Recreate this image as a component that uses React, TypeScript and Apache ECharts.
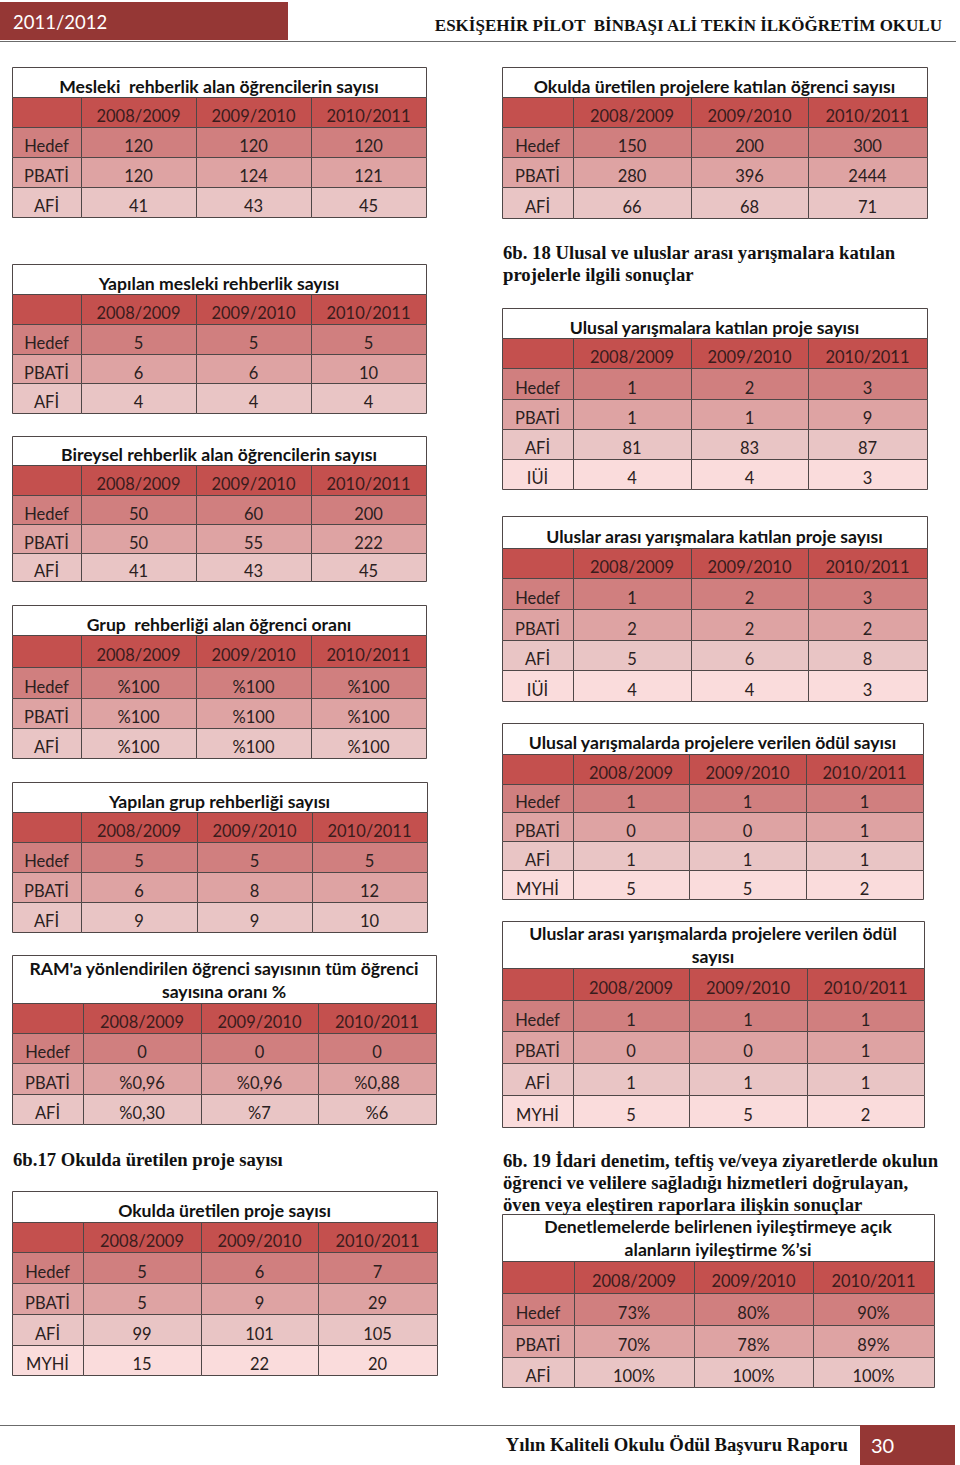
import React, { useEffect, useRef } from "react";
import * as echarts from "echarts";

// ---------------- DATA ----------------
const YEARS = ["2008/2009", "2009/2010", "2010/2011"];

const pageYear = "2011/2012";
const schoolName = "ESKİŞEHİR PİLOT  BİNBAŞI ALİ TEKİN İLKÖĞRETİM OKULU";
const footerText = "Yılın Kaliteli Okulu Ödül Başvuru Raporu";
const pageNumber = "30";

const heading17 = "6b.17 Okulda üretilen proje sayısı";
const heading18 = "6b. 18 Ulusal ve uluslar arası yarışmalara katılan\nprojelerle ilgili sonuçlar";
const heading19 =
  "6b. 19 İdari denetim, teftiş ve/veya ziyaretlerde okulun\nöğrenci ve velilere sağladığı hizmetleri doğrulayan,\növen veya eleştiren raporlara ilişkin sonuçlar";

const meslekiTitle = "Mesleki  rehberlik alan öğrencilerin sayısı";
const meslekiRows = ["Hedef", "PBATİ", "AFİ"];
const meslekiValues = [["120", "120", "120"], ["120", "124", "121"], ["41", "43", "45"]];

const projeOgrenciTitle = "Okulda üretilen projelere katılan öğrenci sayısı";
const projeOgrenciRows = ["Hedef", "PBATİ", "AFİ"];
const projeOgrenciValues = [["150", "200", "300"], ["280", "396", "2444"], ["66", "68", "71"]];

const yapilanMeslekiTitle = "Yapılan mesleki rehberlik sayısı";
const yapilanMeslekiRows = ["Hedef", "PBATİ", "AFİ"];
const yapilanMeslekiValues = [["5", "5", "5"], ["6", "6", "10"], ["4", "4", "4"]];

const bireyselTitle = "Bireysel rehberlik alan öğrencilerin sayısı";
const bireyselRows = ["Hedef", "PBATİ", "AFİ"];
const bireyselValues = [["50", "60", "200"], ["50", "55", "222"], ["41", "43", "45"]];

const grupTitle = "Grup  rehberliği alan öğrenci oranı";
const grupRows = ["Hedef", "PBATİ", "AFİ"];
const grupValues = [["%100", "%100", "%100"], ["%100", "%100", "%100"], ["%100", "%100", "%100"]];

const yapilanGrupTitle = "Yapılan grup rehberliği sayısı";
const yapilanGrupRows = ["Hedef", "PBATİ", "AFİ"];
const yapilanGrupValues = [["5", "5", "5"], ["6", "8", "12"], ["9", "9", "10"]];

const ramTitle = "RAM'a yönlendirilen öğrenci sayısının tüm öğrenci\nsayısına oranı %";
const ramRows = ["Hedef", "PBATİ", "AFİ"];
const ramValues = [["0", "0", "0"], ["%0,96", "%0,96", "%0,88"], ["%0,30", "%7", "%6"]];

const okulProjeTitle = "Okulda üretilen proje sayısı";
const okulProjeRows = ["Hedef", "PBATİ", "AFİ", "MYHİ"];
const okulProjeValues = [["5", "6", "7"], ["5", "9", "29"], ["99", "101", "105"], ["15", "22", "20"]];

const ulusalTitle = "Ulusal yarışmalara katılan proje sayısı";
const ulusalRows = ["Hedef", "PBATİ", "AFİ", "IÜİ"];
const ulusalValues = [["1", "2", "3"], ["1", "1", "9"], ["81", "83", "87"], ["4", "4", "3"]];

const uluslarArasiTitle = "Uluslar arası yarışmalara katılan proje sayısı";
const uluslarArasiRows = ["Hedef", "PBATİ", "AFİ", "IÜİ"];
const uluslarArasiValues = [["1", "2", "3"], ["2", "2", "2"], ["5", "6", "8"], ["4", "4", "3"]];

const ulusalOdulTitle = "Ulusal yarışmalarda projelere verilen ödül sayısı";
const ulusalOdulRows = ["Hedef", "PBATİ", "AFİ", "MYHİ"];
const ulusalOdulValues = [["1", "1", "1"], ["0", "0", "1"], ["1", "1", "1"], ["5", "5", "2"]];

const uluslarArasiOdulTitle = "Uluslar arası yarışmalarda projelere verilen ödül\nsayısı";
const uluslarArasiOdulRows = ["Hedef", "PBATİ", "AFİ", "MYHİ"];
const uluslarArasiOdulValues = [["1", "1", "1"], ["0", "0", "1"], ["1", "1", "1"], ["5", "5", "2"]];

const denetlemeTitle = "Denetlemelerde belirlenen iyileştirmeye açık\nalanların iyileştirme %’si";
const denetlemeRows = ["Hedef", "PBATİ", "AFİ"];
const denetlemeValues = [["73%", "80%", "90%"], ["70%", "78%", "89%"], ["100%", "100%", "100%"]];

// ---------------- LAYOUT (separate from data) ----------------
const TABLES = [
  { title: meslekiTitle, rows: meslekiRows, values: meslekiValues, cols: [12, 81, 196, 311, 426], edges: [67, 97, 127, 157, 187, 217] },
  { title: projeOgrenciTitle, rows: projeOgrenciRows, values: projeOgrenciValues, cols: [502, 573, 691, 808, 927], edges: [67, 97, 127, 157, 187, 218] },
  { title: yapilanMeslekiTitle, rows: yapilanMeslekiRows, values: yapilanMeslekiValues, cols: [12, 81, 196, 311, 426], edges: [264, 294, 324, 354, 383, 413] },
  { title: bireyselTitle, rows: bireyselRows, values: bireyselValues, cols: [12, 81, 196, 311, 426], edges: [436, 465, 495, 524, 553, 581] },
  { title: grupTitle, rows: grupRows, values: grupValues, cols: [12, 81, 196, 311, 426], edges: [605, 635, 667, 698, 728, 758] },
  { title: yapilanGrupTitle, rows: yapilanGrupRows, values: yapilanGrupValues, cols: [12, 81, 197, 312, 427], edges: [782, 812, 842, 872, 902, 932] },
  { title: ramTitle, rows: ramRows, values: ramValues, cols: [12, 83, 201, 318, 436], edges: [955, 1003, 1033, 1063, 1094, 1124] },
  { title: okulProjeTitle, rows: okulProjeRows, values: okulProjeValues, cols: [12, 83, 201, 318, 437], edges: [1191, 1222, 1252, 1283, 1314, 1345, 1375] },
  { title: ulusalTitle, rows: ulusalRows, values: ulusalValues, cols: [502, 573, 691, 808, 927], edges: [308, 338, 368, 399, 429, 459, 489] },
  { title: uluslarArasiTitle, rows: uluslarArasiRows, values: uluslarArasiValues, cols: [502, 573, 691, 808, 927], edges: [516, 548, 578, 609, 640, 670, 701] },
  { title: ulusalOdulTitle, rows: ulusalOdulRows, values: ulusalOdulValues, cols: [502, 573, 689, 806, 923], edges: [723, 754, 784, 812, 841, 870, 899] },
  { title: uluslarArasiOdulTitle, rows: uluslarArasiOdulRows, values: uluslarArasiOdulValues, cols: [502, 573, 689, 807, 924], edges: [921, 968, 1000, 1031, 1063, 1095, 1127] },
  { title: denetlemeTitle, rows: denetlemeRows, values: denetlemeValues, cols: [502, 574, 694, 813, 934], edges: [1214, 1261, 1293, 1325, 1357, 1387] },
];

const HEADER_FILL = "#c4504e";
const ROW_FILLS = ["#d07f7f", "#dea3a3", "#e9c5c5", "#fadcdc"];
const BORDER = "#4f4747";
const DARK_RED = "#953735";
const SANS = "Lato, 'Open Sans', sans-serif";
const SERIF = "'Liberation Serif', 'Times New Roman', serif";
const TEXT_DY = 4;
const MULTILINE_DY = 0.5;

function rect(x: number, y: number, w: number, h: number, fill: string, stroke?: string) {
  return {
    type: "rect",
    silent: true,
    shape: { x: x + 0.5, y: y + 0.5, width: w, height: h },
    style: { fill, stroke: stroke || "none", lineWidth: 1 },
  };
}

function text(x: number, y: number, t: string, opts: any = {}) {
  const align = opts.align || "center";
  const valign = opts.valign || "middle";
  return {
    type: "text",
    silent: true,
    x,
    y,
    z: 10,
    style: {
      text: t,
      fill: opts.fill || "#231a1a",
      font: `${opts.weight || "normal"} ${opts.size || 16}px ${opts.family || SANS}`,
      fontSize: opts.size || 16,
      fontWeight: opts.weight || "normal",
      fontFamily: opts.family || SANS,
      textAlign: align,
      align,
      textVerticalAlign: valign,
      verticalAlign: valign,
      lineHeight: opts.lineHeight || undefined,
    },
  };
}

function buildTable(t: any) {
  const els: any[] = [];
  const { cols, edges } = t;
  const L = cols[0];
  const R = cols[cols.length - 1];
  const titleDy = t.title.indexOf("\n") >= 0 ? MULTILINE_DY : TEXT_DY;
  els.push(rect(L, edges[0], R - L, edges[1] - edges[0], "#ffffff", BORDER));
  els.push(text((L + R) / 2, (edges[0] + edges[1]) / 2 + titleDy, t.title, { weight: "bold", size: 17.6, lineHeight: 23, fill: "#111" }));
  for (let c = 0; c < 4; c++) {
    els.push(rect(cols[c], edges[1], cols[c + 1] - cols[c], edges[2] - edges[1], HEADER_FILL, BORDER));
    if (c > 0) {
      els.push(text((cols[c] + cols[c + 1]) / 2, (edges[1] + edges[2]) / 2 + TEXT_DY, YEARS[c - 1], { size: 16.5, fill: "#3a1c1c" }));
    }
  }
  t.rows.forEach((label: string, r: number) => {
    const y0 = edges[r + 2];
    const y1 = edges[r + 3];
    const fill = ROW_FILLS[r];
    for (let c = 0; c < 4; c++) {
      els.push(rect(cols[c], y0, cols[c + 1] - cols[c], y1 - y0, fill, BORDER));
      const s = c === 0 ? label : t.values[r][c - 1];
      els.push(text((cols[c] + cols[c + 1]) / 2, (y0 + y1) / 2 + TEXT_DY, s, { size: 16.5, fill: "#2a2020" }));
    }
  });
  return els;
}

function buildPage() {
  const els: any[] = [];
  // top band
  els.push({ type: "line", silent: true, shape: { x1: 0, y1: 41.5, x2: 956, y2: 41.5 }, style: { stroke: "#6b6b6b", lineWidth: 1.2 } });
  els.push({ type: "rect", silent: true, shape: { x: 0, y: 2, width: 288, height: 38 }, style: { fill: DARK_RED } });
  els.push(text(13, 22, pageYear, { align: "left", size: 18.5, fill: "#ffffff" }));
  els.push(text(942, 25, schoolName, { align: "right", size: 17, weight: "bold", family: SERIF, fill: "#111" }));

  // section headings
  els.push(text(13, 1159, heading17, { align: "left", size: 18.7, weight: "bold", family: SERIF, fill: "#111" }));
  els.push(text(503, 263, heading18, { align: "left", size: 18.7, weight: "bold", family: SERIF, fill: "#111", lineHeight: 22 }));
  els.push(text(503, 1182, heading19, { align: "left", size: 18.7, weight: "bold", family: SERIF, fill: "#111", lineHeight: 22 }));

  TABLES.forEach((t) => els.push(...buildTable(t)));

  // footer
  els.push({ type: "line", silent: true, shape: { x1: 0, y1: 1425.5, x2: 860, y2: 1425.5 }, style: { stroke: "#6b6b6b", lineWidth: 1.2 } });
  els.push({ type: "rect", silent: true, shape: { x: 860, y: 1425, width: 95, height: 40 }, style: { fill: DARK_RED } });
  els.push(text(871, 1445, pageNumber, { align: "left", size: 20, fill: "#ffffff" }));
  els.push(text(848, 1444, footerText, { align: "right", size: 18.7, weight: "bold", family: SERIF, fill: "#111" }));
  return els;
}

export default function App() {
  const ref = useRef<HTMLDivElement>(null);
  useEffect(() => {
    if (!ref.current) return;
    const chart = echarts.init(ref.current, undefined, { renderer: "svg", width: 960, height: 1465 });
    chart.setOption({
      animation: false,
      backgroundColor: "#ffffff",
      graphic: { elements: buildPage() },
    });
    return () => chart.dispose();
  }, []);
  return (
    <div
      ref={ref}
      style={{ position: "absolute", left: 0, top: 0, width: 960, height: 1465, background: "#fff" }}
    />
  );
}
